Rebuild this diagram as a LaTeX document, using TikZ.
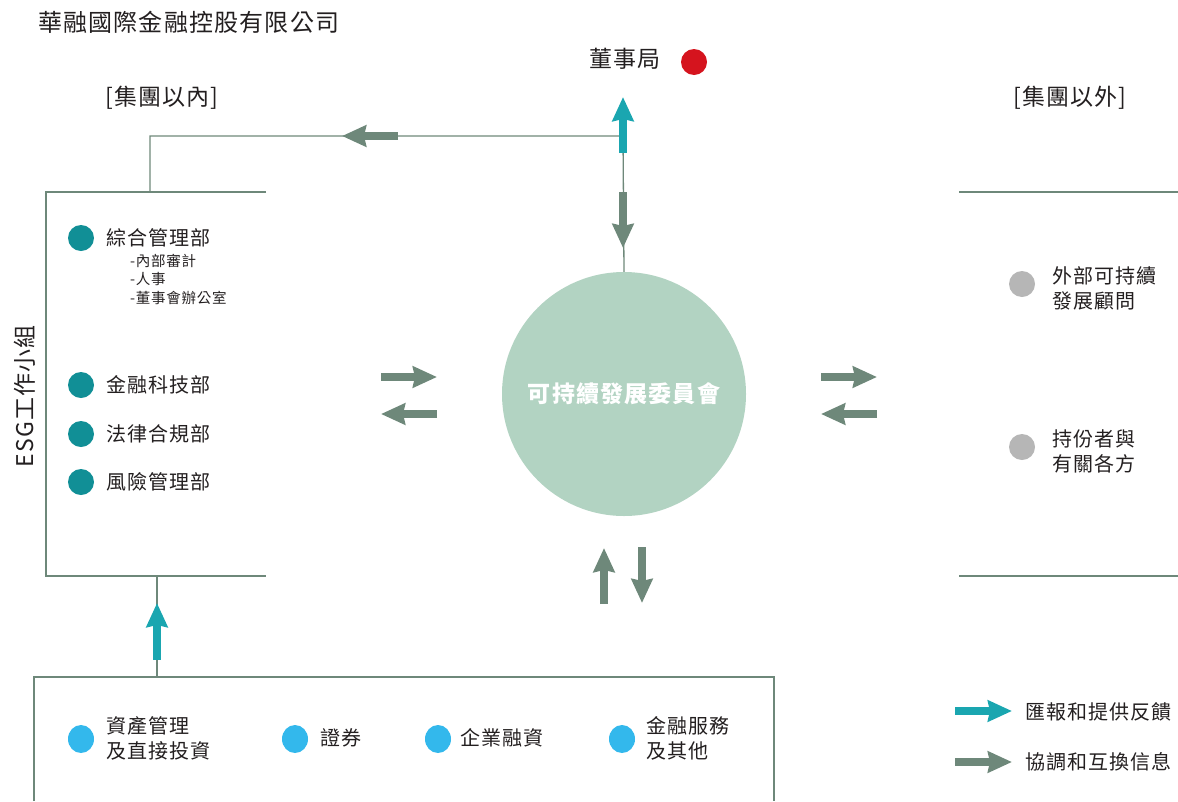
\documentclass[tikz,border=0pt]{standalone}
\usepackage{fontspec}
\setmainfont{Noto Sans CJK TC}
\newfontfamily\spaced[LetterSpace=5]{Noto Sans CJK TC}
\usetikzlibrary{arrows.meta}
\usetikzlibrary{positioning}

\definecolor{linegreen}{RGB}{110,136,122}
\definecolor{reportcyan}{RGB}{26,166,176}
\definecolor{deptteal}{RGB}{17,143,150}
\definecolor{unitblue}{RGB}{51,184,236}
\definecolor{outgrey}{RGB}{182,182,182}
\definecolor{circlegreen}{RGB}{178,211,194}
\definecolor{textdark}{RGB}{35,31,32}
\definecolor{boardred}{RGB}{213,20,30}

\tikzset{
	thinline/.style={draw=linegreen, line width=1.3pt},
	fatarrow/.style={line width=8.3pt, -{Stealth[length=24pt,width=21pt,inset=2pt]}},
	coarrow/.style={fatarrow, draw=linegreen},
	reparrow/.style={fatarrow, draw=reportcyan},
	heading/.style={text=textdark, inner sep=0pt, font=\spaced\fontsize{23}{26}\selectfont},
	item/.style={text=textdark, inner sep=0pt, anchor=west, align=left, font=\spaced\fontsize{20}{25}\selectfont},
	subitem/.style={text=textdark, inner sep=0pt, anchor=west, align=left, font=\spaced\fontsize{14.5}{18.5}\selectfont},
	committee/.style={circle, fill=circlegreen, minimum size=244pt, inner sep=0pt, text=white, font=\spaced\bfseries\fontsize{23}{26}\selectfont}
}

\begin{document}
\begin{tikzpicture}[x=1pt,y=-1pt]
	\useasboundingbox (0,0) rectangle (1178,801);
	% headings
	\node[heading, anchor=west, font=\spaced\fontsize{24}{26}\selectfont] (company) at (38,22) {華融國際金融控股有限公司};
	\node[heading] (inner) at (162,98) {[集團以內]};
	\node[heading] (outer) at (1070,98) {[集團以外]};
	\node[heading, anchor=east] (board) at (661,59) {董事局};
	\fill[boardred] (694,62) circle (13);
	\node[heading, rotate=90] (esg) at (25,396) {ESG工作小組};

	% committee
	\node[committee] (ssc) at (624,394) {可持續發展委員會};

	% frames and lines
	\coordinate (esgtop) at (150,192);
	\coordinate (esgbot) at (157,576);
	\coordinate (unittop) at (157,677);
	\draw[thinline] (266,192) -- (46,192) -- (46,576) -- (266,576);
	\draw[thinline] (959,192) -- (1178,192);
	\draw[thinline] (959,576) -- (1178,576);
	\draw[thinline] (34,801) -- (34,677) -- (774,677) -- (774,801);
	\draw[thinline] (esgtop) |- (623,136) -- (ssc.north);
	\draw[thinline] (unittop) -- (esgbot);

	% departments
	\foreach \y/\name in {238/綜合管理部, 385/金融科技部, 434/法律合規部, 482/風險管理部} {
		\fill[deptteal] (81,\y) circle (13);
		\node[item] (dept\y) at (106,\y) {\name};
	}
	\node[subitem] (subdept) at (130,279) {-內部審計\\-人事\\-董事會辦公室};

	% outside the group
	\foreach \y/\name in {284/{外部可持續\\發展顧問}, 447/{持份者與\\有關各方}} {
		\fill[outgrey] (1022,\y) circle (13);
		\node[item] (out\y) at (1052,\y+4) {\name};
	}

	% business units
	\foreach \x/\t/\name in {81/106/{資產管理\\及直接投資}, 295/320/證券, 438/460/企業融資, 622/646/{金融服務\\及其他}} {
		\fill[unitblue] (\x,739) ellipse (13 and 14);
		\node[item] (unit\x) at (\t,738) {\name};
	}

	% arrows
	\foreach \xa/\ya/\xb/\yb in {398/136/342/136, 623/192/623/248, 381/377/437/377, 437/414/381/414,
		821/377/877/377, 877/414/821/414, 604/604/604/548, 642/547/642/603, 955/762/1012/762} {
		\draw[coarrow] (\xa,\ya) -- (\xb,\yb);
	}
	\foreach \xa/\ya/\xb/\yb in {623/153/623/97, 157/660/157/603, 955/711/1012/711} {
		\draw[reparrow] (\xa,\ya) -- (\xb,\yb);
	}

	% legend
	\node[item] (legrep) at (1025,712) {匯報和提供反饋};
	\node[item] (legco) at (1025,762) {協調和互換信息};
\end{tikzpicture}
\end{document}
